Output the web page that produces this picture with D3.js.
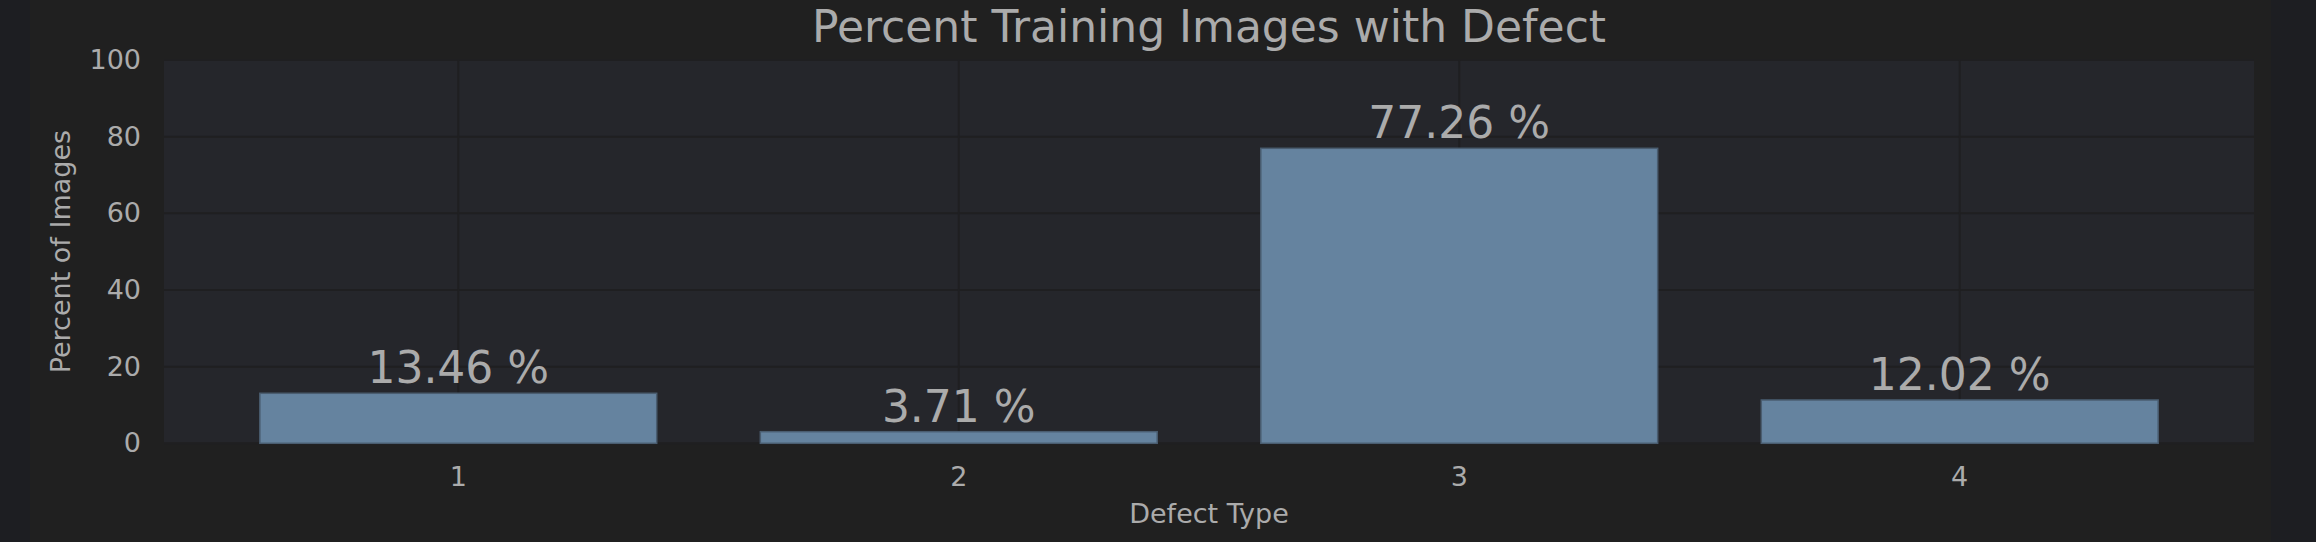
<!DOCTYPE html>
<html>
<head>
<meta charset="utf-8">
<script src="https://cdn.jsdelivr.net/npm/d3@7"></script>
<style>
  html, body { margin: 0; padding: 0; background: #1d1e22; }
  svg { display: block; }
  text { font-family: "DejaVu Sans", sans-serif; fill: #ababab; }
</style>
</head>
<body>
<svg id="chart" width="2316" height="542"></svg>
<script>
// ---- data ----
const categories = ["1", "2", "3", "4"];
const barValues = [13.05, 3.03, 76.96, 11.3];
const barLabels = ["13.46 %", "3.71 %", "77.26 %", "12.02 %"];
const yTicks = [0, 20, 40, 60, 80, 100];
const titleText = "Percent Training Images with Defect";
const xLabelText = "Defect Type";
const yLabelText = "Percent of Images";

// ---- layout ----
const W = 2316, H = 542;
const plot = { left: 164, right: 2254, top: 60, bottom: 443.3 };

const svg = d3.select("#chart");

// outer backgrounds
svg.append("rect").attr("x", 0).attr("y", 0).attr("width", W).attr("height", H).attr("fill", "#1d1e22");
svg.append("rect").attr("x", 30).attr("y", 0).attr("width", 2241).attr("height", H).attr("fill", "#202020");

// plot background
svg.append("rect")
  .attr("x", plot.left).attr("y", plot.top)
  .attr("width", plot.right - plot.left).attr("height", plot.bottom - plot.top)
  .attr("fill", "#25262b");

const x = d3.scaleBand()
  .domain(categories)
  .range([plot.left, plot.right])
  .paddingInner(0.207)
  .paddingOuter(0.1915);

const y = d3.scaleLinear().domain([0, 100]).range([plot.bottom, plot.top]);

// grid lines
const grid = svg.append("g");
grid.selectAll("line.h").data(yTicks).enter().append("line")
  .attr("x1", plot.left).attr("x2", plot.right)
  .attr("y1", d => y(d)).attr("y2", d => y(d))
  .attr("stroke", "#1f1f21").attr("stroke-width", 2);
grid.selectAll("line.v").data(categories).enter().append("line")
  .attr("y1", plot.top).attr("y2", plot.bottom)
  .attr("x1", d => x(d) + x.bandwidth() / 2).attr("x2", d => x(d) + x.bandwidth() / 2)
  .attr("stroke", "#1f1f21").attr("stroke-width", 2);

// bars
svg.append("g").selectAll("rect").data(categories).enter().append("rect")
  .attr("x", d => x(d))
  .attr("y", (d, i) => y(barValues[i]))
  .attr("width", x.bandwidth())
  .attr("height", (d, i) => y(0) - y(barValues[i]))
  .attr("fill", "#65839f")
  .attr("stroke", "#4a5d70")
  .attr("stroke-width", 1.5);

// bar labels
svg.append("g").selectAll("text").data(categories).enter().append("text")
  .attr("x", d => x(d) + x.bandwidth() / 2)
  .attr("y", (d, i) => y(barValues[i]) - 10)
  .attr("text-anchor", "middle")
  .attr("font-size", 44)
  .text((d, i) => barLabels[i]);

// y axis
const yAxis = d3.axisLeft(y).tickValues(yTicks).tickSize(0).tickPadding(23);
const gy = svg.append("g").attr("transform", `translate(${plot.left},0)`).call(yAxis);
gy.select(".domain").remove();
gy.selectAll("text").attr("font-size", 27).attr("fill", "#ababab")
  .attr("font-family", "DejaVu Sans, sans-serif");

// x axis
const xAxis = d3.axisBottom(x).tickSize(0).tickPadding(24);
const gx = svg.append("g").attr("transform", `translate(0,${plot.bottom})`).call(xAxis);
gx.select(".domain").remove();
gx.selectAll("text").attr("font-size", 27).attr("fill", "#ababab")
  .attr("font-family", "DejaVu Sans, sans-serif");

// title
svg.append("text")
  .attr("x", (plot.left + plot.right) / 2).attr("y", 41.5)
  .attr("text-anchor", "middle").attr("font-size", 44)
  .text(titleText);

// x label
svg.append("text")
  .attr("x", (plot.left + plot.right) / 2).attr("y", 523)
  .attr("text-anchor", "middle").attr("font-size", 27)
  .text(xLabelText);

// y label
svg.append("text")
  .attr("transform", `translate(70,${(plot.top + plot.bottom) / 2}) rotate(-90)`)
  .attr("text-anchor", "middle").attr("font-size", 27)
  .text(yLabelText);
</script>
</body>
</html>
